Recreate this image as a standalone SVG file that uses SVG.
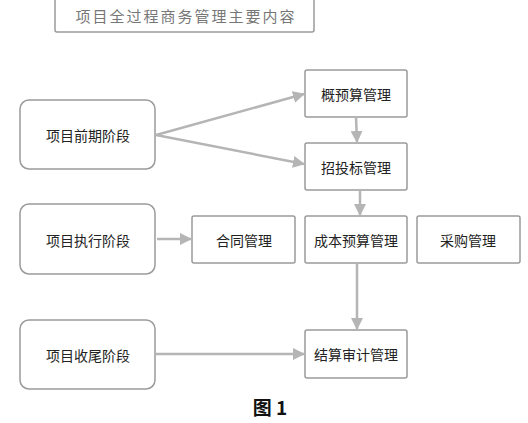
<svg xmlns="http://www.w3.org/2000/svg" width="528" height="423" viewBox="0 0 528 423">
<style>
.box{fill:#fff;stroke:#9a9a9a;stroke-width:1.5}
.t{font-family:"Noto Sans CJK SC","Liberation Sans",sans-serif;font-size:14px;fill:#222;text-anchor:middle;dominant-baseline:central}
.c{stroke:#b5b5b5;stroke-width:2.5;fill:none}
</style>
<defs>
<marker id="ah" markerWidth="12" markerHeight="12" refX="11" refY="6" orient="auto" markerUnits="userSpaceOnUse" viewBox="0 0 12 12">
<path d="M0,0 L12,6 L0,12 z" fill="#b5b5b5"/>
</marker>
</defs>
<rect width="528" height="423" fill="#fff"/>
<g id="title">
<rect class="box" x="55" y="-4" width="259" height="36" rx="2"/>
<text class="t" x="186" y="15" style="fill:#777;font-size:15px;letter-spacing:2px">项目全过程商务管理主要内容</text>
</g>
<g id="n-early"><rect class="box" x="20" y="100" width="135" height="69" rx="9"/><text class="t" x="88" y="135">项目前期阶段</text></g>
<g id="n-exec"><rect class="box" x="20" y="204" width="135" height="70" rx="9"/><text class="t" x="88" y="240">项目执行阶段</text></g>
<g id="n-close"><rect class="box" x="20" y="320" width="135" height="69" rx="9"/><text class="t" x="88" y="355">项目收尾阶段</text></g>
<g id="n-budget"><rect class="box" x="305" y="70" width="102" height="47" rx="2"/><text class="t" x="356" y="94">概预算管理</text></g>
<g id="n-bid"><rect class="box" x="305" y="143" width="102" height="47" rx="2"/><text class="t" x="356" y="167">招投标管理</text></g>
<g id="n-contract"><rect class="box" x="192" y="216" width="103" height="47" rx="2"/><text class="t" x="244" y="240">合同管理</text></g>
<g id="n-cost"><rect class="box" x="305" y="216" width="102" height="47" rx="2"/><text class="t" x="356" y="240">成本预算管理</text></g>
<g id="n-purchase"><rect class="box" x="417" y="216" width="103" height="47" rx="2"/><text class="t" x="468" y="240">采购管理</text></g>
<g id="n-audit"><rect class="box" x="305" y="330" width="102" height="48" rx="2"/><text class="t" x="356" y="354">结算审计管理</text></g>
<g id="connectors">
<line class="c" x1="156" y1="135" x2="304" y2="94" marker-end="url(#ah)"/>
<line class="c" x1="156" y1="135" x2="304" y2="164" marker-end="url(#ah)"/>
<line class="c" x1="356" y1="117" x2="357" y2="142" marker-end="url(#ah)"/>
<line class="c" x1="360" y1="190" x2="360" y2="215" marker-end="url(#ah)"/>
<line class="c" x1="157" y1="239" x2="191" y2="239" marker-end="url(#ah)"/>
<line class="c" x1="357" y1="263" x2="357" y2="329" marker-end="url(#ah)"/>
<line class="c" x1="156" y1="354" x2="304" y2="354" marker-end="url(#ah)"/>
</g>
<text x="270" y="406" style="font-family:'Noto Sans CJK SC','Liberation Sans',sans-serif;font-size:19px;font-weight:bold;fill:#111;text-anchor:middle;dominant-baseline:central">图 1</text>
</svg>
